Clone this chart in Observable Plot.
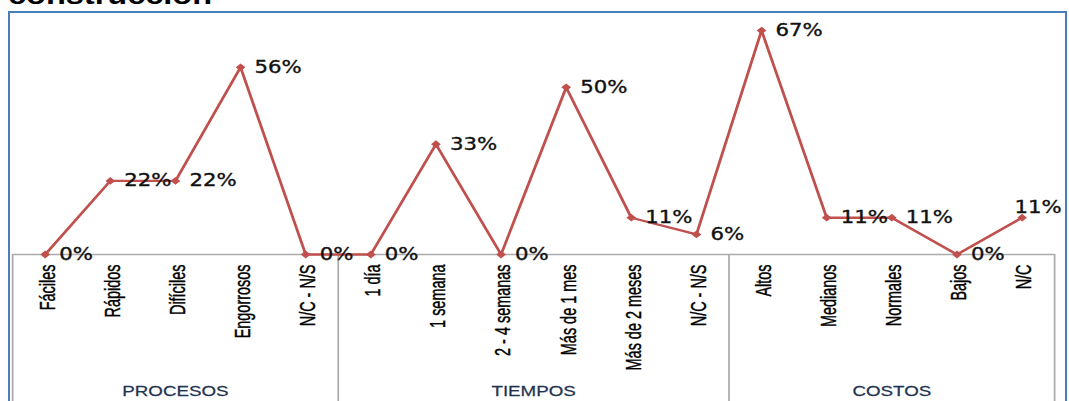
<!DOCTYPE html>
<html><head><meta charset="utf-8">
<script src="https://cdn.jsdelivr.net/npm/d3@7"></script>
<script src="https://cdn.jsdelivr.net/npm/@observablehq/plot@0.6"></script>
<style>
html,body{margin:0;padding:0;background:#fff;}
#wrap{position:relative;width:1069px;height:401px;overflow:hidden;background:#fff;}
#title{position:absolute;left:8px;top:-18px;font:bold 26px "Liberation Sans",Arial,sans-serif;line-height:26px;color:#000;transform:scaleX(1.25);transform-origin:0 0;white-space:nowrap;}
#chart{position:absolute;left:0;top:0;}
#frame{position:absolute;left:8px;top:11px;width:1059px;height:600px;border:2px solid #4A7EBB;box-sizing:border-box;pointer-events:none;}
</style></head><body>
<div id="wrap"><div id="title">construcción</div><div id="chart"></div><div id="frame"></div></div>
<script>
// ---- data ----
const groups = ["PROCESOS", "TIEMPOS", "COSTOS"];
const procesosLabels = ["Fáciles", "Rápidos", "Difíciles", "Engorrosos", "N/C - N/S"];
const procesosValues = [0, 22, 22, 56, 0];
const tiemposLabels = ["1 día", "1 semana", "2 - 4 semanas", "Más de 1 mes", "Más de 2 meses", "N/C - N/S"];
const tiemposValues = [0, 33, 0, 50, 11, 6];
const costosLabels = ["Altos", "Medianos", "Normales", "Bajos", "N/C"];
const costosValues = [67, 11, 11, 0, 11];

const groupLabels = [procesosLabels, tiemposLabels, costosLabels];
const groupValues = [procesosValues, tiemposValues, costosValues];

// build table
const rows = [];
const groupRows = [];
const bounds = [-0.5];
groups.forEach((g, gi) => {
  const start = rows.length;
  groupLabels[gi].forEach((lab, k) => rows.push({i: rows.length, group: g, label: lab, value: groupValues[gi][k]}));
  const end = rows.length - 1;
  groupRows.push({group: g, mid: (start + end) / 2});
  bounds.push(end + 0.5);
});

// ---- layout ----
const S = 1069 / 855;          // horizontal stretch of the original picture
const W = 855, H = 401;
const RED = "#C0504D";
const GRID = "#ABABAB";
const Y0 = 254;

const plot = Plot.plot({
  width: W,
  height: H,
  marginLeft: 12 / S,
  marginRight: 15 / S,
  marginTop: 0,
  marginBottom: 10,
  style: {background: "transparent", fontFamily: "'Liberation Sans', Arial, sans-serif"},
  x: {type: "linear", domain: [-0.5, rows.length - 0.5], axis: null},
  y: {domain: [0, 70], range: [Y0, Y0 - 70 * 3.343], axis: null},
  marks: [
    Plot.ruleY([0], {stroke: GRID, strokeWidth: 1.4}),
    Plot.ruleX(bounds, {x: d => d, insetTop: Y0, insetBottom: -10, stroke: GRID, strokeWidth: 1.4}),
    Plot.line(rows, {x: "i", y: "value", stroke: RED, strokeWidth: 2.3}),
    Plot.dot(rows, {x: "i", y: "value", symbol: "diamond2", r: 3.5, fill: RED, stroke: "none"}),
    Plot.text(rows.filter((d, k) => k < rows.length - 1), {
      x: "i", y: "value", text: d => d.value + "%",
      textAnchor: "start", dx: 14 / S, fontSize: 17, fill: "#111",
      stroke: "#111", strokeWidth: 0.35,
      fontFamily: "'DejaVu Sans', Verdana, sans-serif"
    }),
    Plot.text(rows.filter((d, k) => k === rows.length - 1), {
      x: "i", y: "value", text: d => d.value + "%",
      textAnchor: "middle", dx: 16 / S, dy: -10, fontSize: 17, fill: "#111",
      stroke: "#111", strokeWidth: 0.35,
      fontFamily: "'DejaVu Sans', Verdana, sans-serif"
    }),
    Plot.text(rows, {
      x: "i", y: 0, text: "label", rotate: -90, textAnchor: "end", lineAnchor: "middle",
      dy: 10, dx: 2, fontSize: 17, fill: "#000", stroke: "#000", strokeWidth: 0.35
    }),
    Plot.text(groupRows, {
      x: "mid", text: "group", frameAnchor: "bottom", lineAnchor: "middle",
      fontSize: 15, fill: "#1F3350", stroke: "#1F3350", strokeWidth: 0.25,
      style: "letter-spacing:0.6px"
    })
  ]
});
// condense the rotated category labels along their reading direction
plot.querySelectorAll("text").forEach(t => {
  const tr = t.getAttribute("transform") || "";
  if (tr.includes("rotate(-90)")) t.setAttribute("transform", tr + " scale(0.85,1)");
});
plot.setAttribute("preserveAspectRatio", "none");
plot.style.width = "1069px";
plot.style.height = "401px";
plot.style.maxWidth = "none";
document.getElementById("chart").appendChild(plot);
</script>
</body></html>
